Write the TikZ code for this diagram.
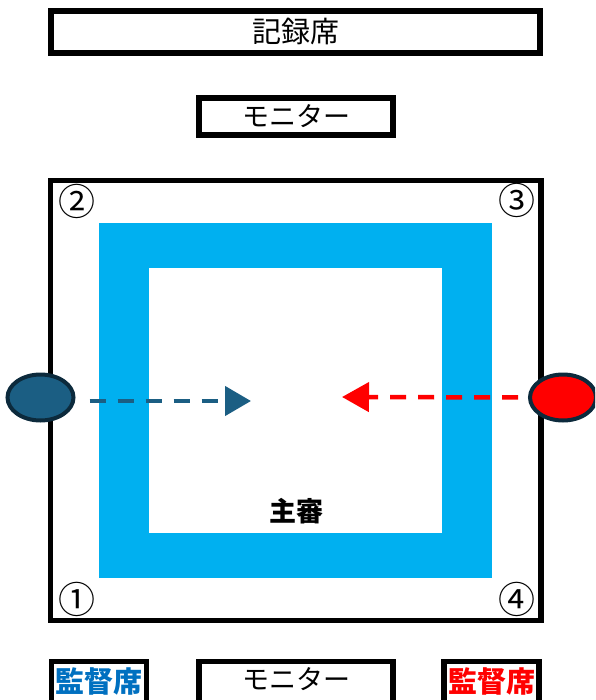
\documentclass[tikz,border=0pt]{standalone}
\usepackage{fontspec}
\newfontfamily\jp{Noto Sans CJK JP}
\usetikzlibrary{shapes.geometric,arrows.meta}
\definecolor{courtblue}{HTML}{00B0F0}
\definecolor{teamblue}{HTML}{1B5E83}
\definecolor{textblue}{HTML}{0070C0}
\definecolor{rimnavy}{HTML}{0C2A3C}
\begin{document}
\begin{tikzpicture}[x=1pt,y=-1pt,
  box/.style={draw,line width=5.5pt,inner sep=0pt,font=\jp\fontsize{27}{27}\selectfont},
  num/.style={inner sep=0pt,font=\jp\fontsize{37}{37}\selectfont},
  player/.style={ellipse,draw=rimnavy,line width=4pt,minimum width=66pt,minimum height=46pt,inner sep=0pt},
  move/.style={line width=4.5pt,dash pattern=on 16pt off 12pt}]
\useasboundingbox (0,0) rectangle (595,700);
\clip (0,0) rectangle (595,700);
% court
\fill[courtblue] (99,223) rectangle (492,578);
\fill[white] (149,268) rectangle (442,533);
\draw[line width=5.5pt] (50.5,180.5) rectangle (541,620.5);
\node[num] (n2) at (76.5,201) {②};
\node[num] (n3) at (517,200.5) {③};
\node[num] (n1) at (77,599) {①};
\node[num] (n4) at (517,599) {④};
\node[font=\jp\bfseries\fontsize{27}{27}\selectfont,inner sep=0pt] (ump) at (296,511.5) {主審};
% seats
\node[box,minimum width=489pt,minimum height=42pt,font=\jp\fontsize{29}{29}\selectfont] (rec) at (295.5,32) {記録席};
\node[box,minimum width=194pt,minimum height=37pt] (mon1) at (296,116.5) {モニター};
\node[box,anchor=north,minimum width=194pt,text height=28pt,text depth=20pt] (mon2) at (296,658.5) {モニター};
\node[box,anchor=north,minimum width=95pt,text height=31pt,text depth=20pt,text=textblue,font=\jp\bfseries\fontsize{29}{29}\selectfont] (co1) at (99,658.5) {監督席};
\node[box,anchor=north,minimum width=95pt,text height=31pt,text depth=20pt,text=red,font=\jp\bfseries\fontsize{29}{29}\selectfont] (co2) at (491.5,658.5) {監督席};
% players
\node[player,fill=teamblue] (p1) at (40.5,397.5) {};
\node[player,fill=red] (p2) at (563,397.5) {};
\coordinate (a1) at (251,401);
\coordinate (a2) at (342,397);
\draw[move,teamblue,shorten <=14pt,-{Triangle[length=26pt,width=29pt]}] (p1.east |- a1) -- (a1);
\draw[move,red,shorten <=10pt,-{Triangle[length=27pt,width=29pt]}] (p2.west) -- (a2);
\end{tikzpicture}
\end{document}
